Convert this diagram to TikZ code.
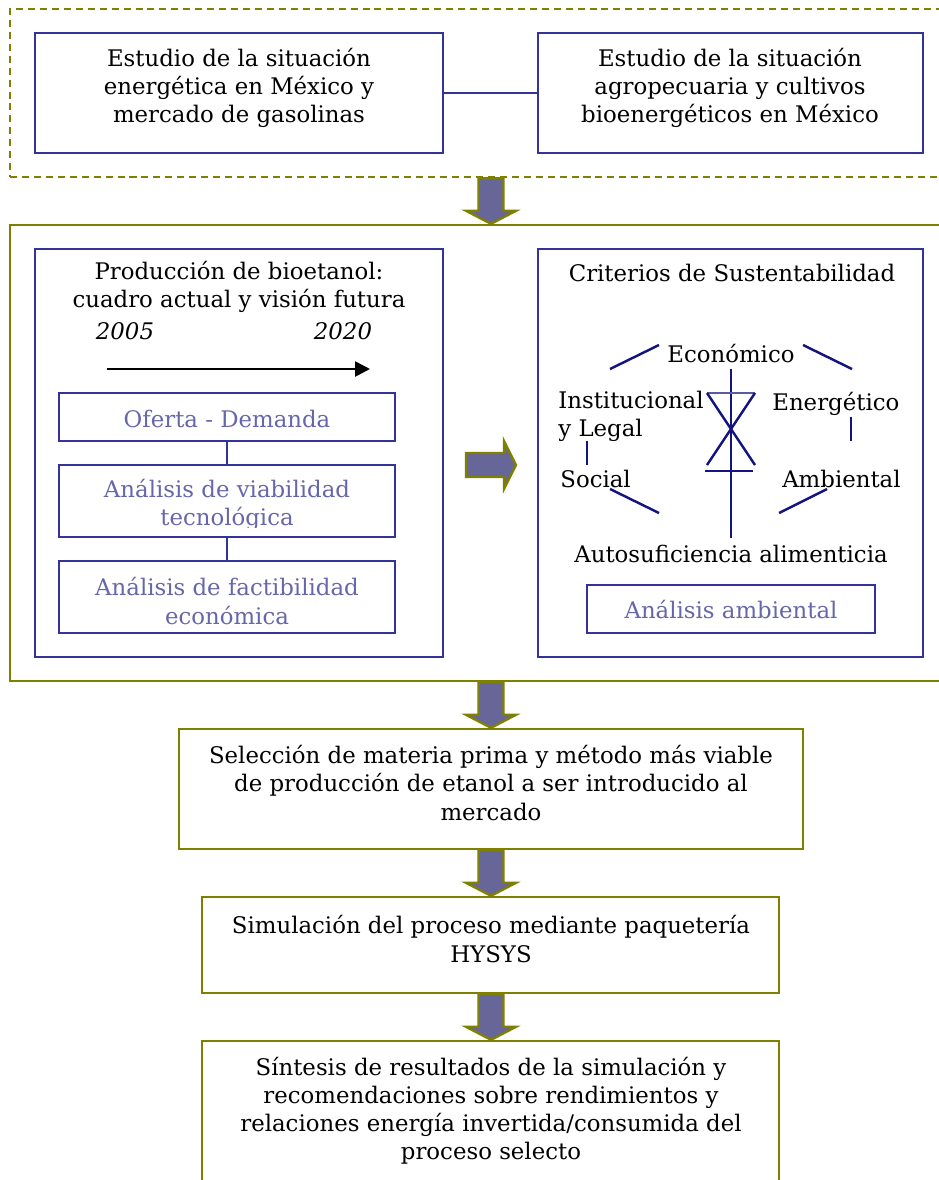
\documentclass[tikz,border=0pt]{standalone}
\usepackage{fontspec}
\setmainfont{DejaVu Serif}
\usepackage{tikz}
\usetikzlibrary{arrows.meta,fit,calc}
\definecolor{boxblue}{RGB}{51,51,153}
\definecolor{linenavy}{RGB}{20,20,128}
\definecolor{lavtext}{RGB}{102,102,170}
\definecolor{olivo}{RGB}{128,128,0}
\definecolor{flecha}{RGB}{102,102,153}
\tikzstyle{frame}=[draw=olivo, line width=1.3pt, inner sep=0pt]
\tikzstyle{dframe}=[frame, dash pattern=on 4pt off 2.8pt]
\tikzstyle{bbox}=[draw=boxblue, line width=1.3pt, inner sep=0pt]
\tikzstyle{txt}=[align=center, font=\fontsize{13}{16}\selectfont, inner sep=0pt]
\tikzstyle{ltxt}=[txt, text=lavtext]
\tikzstyle{link}=[draw=boxblue, line width=1.3pt]
\tikzstyle{crit}=[draw=linenavy, line width=1.4pt]
\tikzstyle{bigarrow}=[draw=olivo, fill=flecha, line width=1.3pt]

\begin{document}
\begin{tikzpicture}[x=0.02cm, y=-0.02cm]
	\useasboundingbox (0,0) rectangle (938,1180);

	% marcos
	\node[dframe, fit={(10,9) (960,177)}] (gob) {};
	\node[frame, fit={(10,225) (960,681)}] (alt) {};

	% estudios
	\node[bbox, fit={(35,33) (443,153)}] (sitEn) {};
	\node[txt] (sitEnT) at (239,88) {Estudio de la situación\\energética en México y\\mercado de gasolinas};
	\node[bbox, fit={(538,33) (923,153)}] (sitAg) {};
	\node[txt] (sitAgT) at (730,88) {Estudio de la situación\\agropecuaria y cultivos\\bioenergéticos en México};
	\draw[link] (sitEn) -- (sitAg);

	% produccion
	\node[bbox, fit={(35,249) (443,657)}] (prod) {};
	\node[txt] (prodT) at (239,287) {Producción de bioetanol:\\cuadro actual y visión futura};
	\node[txt, font=\fontsize{13}{16}\selectfont\itshape] (y_1) at (125,331) {2005};
	\node[txt, font=\fontsize{13}{16}\selectfont\itshape] (y_2) at (343,331) {2020};
	\coordinate (t_0) at (107,369);
	\coordinate (t_1) at (370,369);
	\draw[line width=1.5pt, -{Triangle[length=8.5pt, width=8.5pt]}] (t_0) -- (t_1);

	\node[bbox, fit={(59,393) (395,441)}] (ofe) {};
	\node[ltxt] (ofeT) at (227,419) {Oferta - Demanda};
	\node[bbox, fit={(59,465) (395,537)}] (via) {};
	\begin{scope}
		\clip (59,465) rectangle (395,527);
		\node[ltxt] (viaT) at (227,505) {Análisis de viabilidad\\tecnológica};
	\end{scope}
	\node[bbox, fit={(59,561) (395,633)}] (fac) {};
	\node[ltxt] (facT) at (227,601) {Análisis de factibilidad\\económica};
	\draw[link] (ofe) -- (via);
	\draw[link] (via) -- (fac);

	% criterios
	\node[bbox, fit={(538,249) (923,657)}] (crit) {};
	\node[txt] (critT) at (732,273) {Criterios de Sustentabilidad};
	\node[txt] (eco) at (731,354) {Económico};
	\node[txt, anchor=west, align=left] (ins) at (558,416) {Institucional\\y Legal};
	\node[txt, anchor=west] (ene) at (772,404) {Energético};
	\node[txt, anchor=west] (soc) at (560,479) {Social};
	\node[txt, anchor=east] (amb) at (901,479) {Ambiental};
	\node[txt] (aut) at (731,554) {Autosuficiencia alimenticia};
	\node[bbox, fit={(587,585) (875,633)}] (ana) {};
	\node[ltxt] (anaT) at (731,610) {Análisis ambiental};

	\draw[crit] (610,369) -- (659,345);
	\draw[crit] (803,345) -- (852,369);
	\draw[crit] (587,441) -- (587,465);
	\draw[crit] (851,417) -- (851,441);
	\draw[crit] (610,489) -- (659,513);
	\draw[crit] (779,513) -- (827,489);
	\draw[crit] (731,369) -- (731,538);
	\draw[crit, draw=linenavy!70] (707,393) -- (755,393);
	\draw[crit] (707,393) -- (755,465);
	\draw[crit] (755,393) -- (707,465);
	\draw[crit] (705,471) -- (753,471);

	% seleccion, simulacion, sintesis
	\node[frame, fit={(179,729) (803,849)}] (sel) {};
	\node[txt] (selT) at (491,783) {Selección de materia prima y método más viable\\de producción de etanol a ser introducido al\\mercado};
	\node[frame, fit={(202,897) (779,993)}] (sim) {};
	\node[txt] (simT) at (491,939) {Simulación del proceso mediante paquetería\\HYSYS};
	\node[frame, fit={(202,1041) (779,1230)}] (sint) {};
	\node[txt] (sintT) at (491,1111) {Síntesis de resultados de la simulación y\\recomendaciones sobre rendimientos y\\relaciones energía invertida/consumida del\\proceso selecto};

	% flechas
	\foreach \a/\b in {gob/alt, alt/sel, sel/sim, sim/sint}{
		\path[bigarrow] let \p1=(\a.south -| sel.north), \p2=(\b.north -| sel.north) in
			(\x1-7.1pt,\y1) -- (\x1+7.1pt,\y1) -- (\x1+7.1pt,\y2+7.4pt) -- (\x1+14.2pt,\y2+7.4pt)
			-- (\x1,\y2) -- (\x1-14.2pt,\y2+7.4pt) -- (\x1-7.1pt,\y2+7.4pt) -- cycle;
	}
	\coordinate (ra) at (466,465);
	\path[bigarrow] (ra) --++(0,-12) --++(38,0) --++(0,-12) --++(12,24) --++(-12,24) --++(0,-12) --++(-38,0) -- cycle;
\end{tikzpicture}
\end{document}
